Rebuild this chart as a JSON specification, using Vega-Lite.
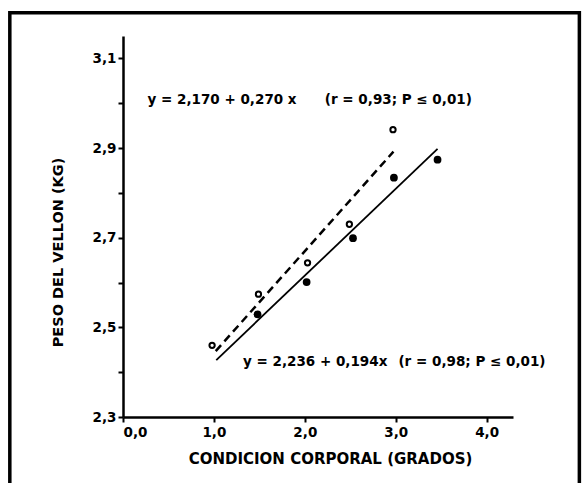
{
  "$schema": "https://vega.github.io/schema/vega-lite/v6.json",
  "width": 390,
  "height": 381,
  "autosize": "none",
  "padding": {"left": 123, "top": 36, "right": 72, "bottom": 66},
  "background": "white",
  "config": {
    "view": {"stroke": null},
    "font": "DejaVu Sans",
    "axis": {
      "grid": false,
      "domainColor": "black",
      "domainWidth": 2.5,
      "tickColor": "black",
      "tickWidth": 2,
      "tickSize": 5,
      "labelColor": "black",
      "labelFont": "DejaVu Sans",
      "labelFontWeight": "bold",
      "labelFontSize": 13.5,
      "titleColor": "black",
      "titleFont": "DejaVu Sans",
      "titleFontWeight": "bold"
    }
  },
  "datasets": {
    "marco": [
      {"izq": -1.245, "der": 5.02, "sup": 3.202, "inf": 2.1}
    ],
    "puntos": [
      {"grupo": "abierto", "x": 0.98, "y": 2.46},
      {"grupo": "abierto", "x": 1.49, "y": 2.574},
      {"grupo": "abierto", "x": 2.03, "y": 2.644},
      {"grupo": "abierto", "x": 2.49, "y": 2.73},
      {"grupo": "abierto", "x": 2.97, "y": 2.941},
      {"grupo": "lleno", "x": 1.48, "y": 2.529},
      {"grupo": "lleno", "x": 2.02, "y": 2.601},
      {"grupo": "lleno", "x": 2.53, "y": 2.699},
      {"grupo": "lleno", "x": 2.98, "y": 2.834},
      {"grupo": "lleno", "x": 3.46, "y": 2.874}
    ],
    "rectas": [
      {"grupo": "abierto", "x": 1.02, "y": 2.447},
      {"grupo": "abierto", "x": 2.975, "y": 2.892},
      {"grupo": "lleno", "x": 1.026, "y": 2.427},
      {"grupo": "lleno", "x": 3.46, "y": 2.898}
    ],
    "notas": [
      {"x": 0.27, "y": 3.008, "texto": "y = 2,170 + 0,270 x"},
      {"x": 2.22, "y": 3.008, "texto": "(r =  0,93;  P ≤ 0,01)"},
      {"x": 1.32, "y": 2.423, "texto": "y = 2,236 + 0,194x"},
      {"x": 3.03, "y": 2.423, "texto": "(r = 0,98;  P ≤ 0,01)"}
    ]
  },
  "layer": [
    {
      "data": {"name": "marco"},
      "mark": {"type": "rect", "fill": "transparent", "stroke": "black", "strokeWidth": 3.5, "clip": false},
      "encoding": {
        "x": {"field": "izq", "type": "quantitative", "scale": {"domain": [0, 4.29], "nice": false, "zero": false}},
        "x2": {"field": "der"},
        "y": {"field": "sup", "type": "quantitative", "scale": {"domain": [2.3, 3.15], "nice": false, "zero": false}},
        "y2": {"field": "inf"}
      }
    },
    {
      "data": {"name": "rectas"},
      "transform": [{"filter": "datum.grupo == 'abierto'"}],
      "mark": {"type": "line", "color": "black", "strokeWidth": 2.5, "strokeDash": [8, 5]},
      "encoding": {
        "x": {"field": "x", "type": "quantitative"},
        "y": {"field": "y", "type": "quantitative"}
      }
    },
    {
      "data": {"name": "rectas"},
      "transform": [{"filter": "datum.grupo == 'lleno'"}],
      "mark": {"type": "line", "color": "black", "strokeWidth": 1.8},
      "encoding": {
        "x": {"field": "x", "type": "quantitative"},
        "y": {"field": "y", "type": "quantitative"}
      }
    },
    {
      "data": {"name": "puntos"},
      "transform": [{"filter": "datum.grupo == 'abierto'"}],
      "mark": {"type": "point", "shape": "circle", "filled": false, "stroke": "black", "strokeWidth": 2, "size": 28, "opacity": 1},
      "encoding": {
        "x": {"field": "x", "type": "quantitative"},
        "y": {"field": "y", "type": "quantitative"}
      }
    },
    {
      "data": {"name": "puntos"},
      "transform": [{"filter": "datum.grupo == 'lleno'"}],
      "mark": {"type": "point", "shape": "circle", "filled": true, "fill": "black", "size": 60, "opacity": 1},
      "encoding": {
        "x": {"field": "x", "type": "quantitative"},
        "y": {"field": "y", "type": "quantitative"}
      }
    },
    {
      "data": {"name": "notas"},
      "mark": {"type": "text", "align": "left", "baseline": "middle", "font": "DejaVu Sans", "fontWeight": "bold", "fontSize": 13.5, "color": "black"},
      "encoding": {
        "x": {
          "field": "x",
          "type": "quantitative",
          "axis": {
            "values": [0, 1, 2, 3, 4],
            "labelExpr": "replace(format(datum.value, '.1f'), '.', ',')",
            "labelPadding": 3,
            "title": "CONDICION CORPORAL (GRADOS)",
            "titleFontSize": 15,
            "titleX": 207,
            "titleY": 41,
            "titleBaseline": "middle"
          }
        },
        "y": {
          "field": "y",
          "type": "quantitative",
          "axis": {
            "values": [2.3, 2.4, 2.5, 2.6, 2.7, 2.8, 2.9, 3.0, 3.1],
            "labelExpr": "round(datum.value * 10) % 2 == 1 ? replace(format(datum.value, '.1f'), '.', ',') : ''",
            "labelPadding": 2,
            "title": "PESO DEL VELLON (KG)",
            "titleFontSize": 14.5,
            "titleX": -65,
            "titleY": 216,
            "titleBaseline": "middle"
          }
        },
        "text": {"field": "texto"}
      }
    }
  ]
}
